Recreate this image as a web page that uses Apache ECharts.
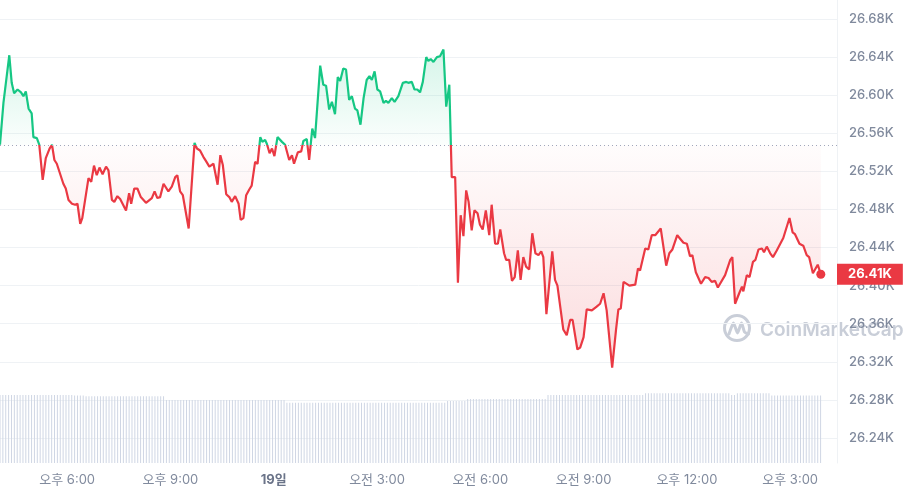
<!DOCTYPE html>
<html><head><meta charset="utf-8">
<script src="https://cdn.jsdelivr.net/npm/echarts@6/dist/echarts.min.js"></script>
<style>html,body{margin:0;padding:0;background:#fff}#c{width:907px;height:495px}</style>
</head><body><div id="c"></div>
<script>
// time in hours since 00:00 of the 18th
const times = [
16.05,16.15,16.32,16.39,16.46,16.56,16.66,16.73,16.80,16.88,
16.97,17.02,17.12,17.19,17.29,17.38,17.49,17.56,17.63,17.70,
17.89,17.96,18.04,18.14,18.23,18.30,18.38,18.44,18.62,18.70,
18.78,18.86,18.94,19.03,19.13,19.20,19.30,19.37,19.46,19.54,
19.71,19.80,19.86,19.95,20.04,20.14,20.29,20.46,20.54,20.62,
20.70,20.80,20.94,21.04,21.14,21.20,21.28,21.36,21.53,21.70,
21.77,21.86,21.96,22.03,22.13,22.25,22.37,22.45,22.52,22.62,
22.71,22.78,22.88,22.98,23.04,23.12,23.20,23.29,23.36,23.46,
23.53,23.61,23.67,23.75,23.80,23.88,23.95,24.02,24.11,24.24,
24.33,24.45,24.53,24.59,24.70,24.80,24.86,24.96,25.03,25.12,
25.20,25.35,25.44,25.52,25.61,25.69,25.78,25.86,25.93,26.02,
26.10,26.19,26.27,26.36,26.43,26.52,26.61,26.70,26.78,26.85,
26.93,27.01,27.09,27.19,27.26,27.33,27.43,27.51,27.62,27.75,
27.85,27.91,28.01,28.09,28.17,28.25,28.33,28.43,28.49,28.56,
28.64,28.74,28.83,28.93,29.01,29.10,29.17,29.27,29.35,29.43,
29.51,29.59,29.66,29.75,29.83,29.92,29.99,30.07,30.16,30.26,
30.33,30.43,30.51,30.58,30.69,30.75,30.84,30.92,31.00,31.09,
31.17,31.25,31.33,31.42,31.51,31.60,31.69,31.77,31.83,31.92,
32.09,32.17,32.24,32.41,32.51,32.61,32.68,32.82,32.90,33.00,
33.09,33.24,33.38,33.48,33.58,33.67,33.83,33.94,34.01,34.08,
34.16,34.33,34.50,34.58,34.64,34.79,34.88,34.98,35.08,35.24,
35.40,35.49,35.58,35.72,35.90,36.00,36.09,36.16,36.26,36.41,
36.53,36.63,36.72,36.82,36.90,37.11,37.26,37.32,37.40,37.52,
37.60,37.64,37.74,37.82,37.92,37.99,38.08,38.18,38.24,38.32,
38.42,38.50,38.61,38.80,38.98,39.07,39.14,39.27,39.38,39.48,
39.55,39.66,39.80,39.89
];
const prices = [
26548,26592,26642,26613,26602,26606,26603,26599,26604,26586,
26581,26556,26555,26548,26511,26534,26544,26548,26532,26528,
26507,26502,26490,26486,26485,26486,26465,26471,26513,26509,
26526,26516,26524,26517,26525,26521,26490,26488,26494,26491,
26479,26497,26486,26502,26502,26493,26487,26492,26499,26492,
26493,26507,26499,26504,26514,26516,26499,26495,26460,26550,
26544,26542,26535,26531,26525,26528,26506,26537,26527,26496,
26493,26488,26494,26486,26469,26471,26495,26501,26505,26530,
26528,26556,26551,26553,26549,26539,26544,26536,26556,26551,
26548,26532,26537,26528,26540,26541,26552,26554,26532,26565,
26555,26631,26611,26610,26585,26593,26580,26619,26615,26628,
26627,26595,26599,26586,26584,26569,26597,26616,26620,26616,
26625,26606,26604,26592,26594,26592,26597,26593,26599,26613,
26614,26613,26614,26606,26606,26603,26614,26640,26636,26638,
26635,26640,26641,26648,26588,26611,26514,26514,26403,26474,
26452,26500,26488,26458,26479,26476,26464,26459,26479,26453,
26485,26444,26444,26459,26434,26427,26427,26405,26409,26437,
26406,26430,26420,26417,26455,26434,26432,26436,26430,26370,
26436,26406,26400,26354,26348,26364,26364,26333,26335,26346,
26375,26374,26378,26381,26392,26374,26314,26353,26375,26376,
26404,26400,26401,26418,26416,26439,26438,26453,26453,26460,
26421,26434,26438,26453,26445,26444,26431,26432,26414,26402,
26409,26408,26404,26405,26398,26411,26427,26430,26381,26392,
26399,26394,26411,26409,26425,26427,26438,26439,26435,26441,
26434,26430,26437,26450,26471,26456,26454,26444,26442,26432,
26430,26413,26422,26412
];
const openPrice = 26547.5;
// 5-minute volume bars (rolling volume, billions)
const volStart = 16.05;
const volStepHours = 1 / 12;
const volume = [
10.0,10.0,10.0,10.0,10.0,10.0,10.0,10.0,10.0,10.0,10.0,10.0,10.0,
10.0,10.0,10.0,10.0,10.0,10.0,10.0,10.0,10.0,10.0,10.0,10.0,10.0,
9.9,9.9,9.9,9.9,9.8,9.8,9.8,9.8,9.8,9.8,9.8,9.8,9.8,9.8,9.8,9.8,
9.8,9.8,9.8,9.8,9.8,9.8,9.8,9.8,9.8,9.8,9.8,9.8,9.8,9.8,9.8,9.8,
9.26,9.26,9.26,9.26,9.26,9.26,9.26,9.26,9.26,9.26,9.26,9.26,9.26,9.26,
9.26,9.26,9.26,9.26,9.26,9.26,9.26,9.26,9.26,9.26,9.26,9.26,9.26,9.26,
9.26,9.26,9.26,9.26,9.26,9.26,9.26,9.26,9.26,9.26,9.26,9.26,9.26,9.26,
8.85,8.85,8.85,8.85,8.85,8.85,8.85,8.85,8.85,8.85,8.85,8.85,8.85,8.85,
8.85,8.85,8.85,8.85,8.85,8.85,8.85,8.85,8.85,8.85,8.85,8.85,8.85,8.85,
8.85,8.85,8.85,8.85,8.85,8.85,8.85,8.85,8.85,8.85,8.85,8.85,8.85,8.85,
8.85,8.85,8.85,8.85,8.85,8.85,8.85,8.85,8.85,8.85,8.85,8.85,8.85,8.85,
9.12,9.12,9.12,9.12,9.12,9.12,9.12,
9.41,9.41,9.41,9.41,9.41,9.41,9.41,9.41,9.41,9.41,9.41,9.41,9.41,9.41,
9.41,9.41,9.41,9.41,9.41,9.41,9.41,9.41,9.41,9.41,9.41,9.41,9.41,9.41,
10.0,10.0,10.0,10.0,10.0,10.0,10.0,10.0,10.0,10.0,10.0,10.0,10.0,10.0,10.0,10.0,10.0,
10.0,10.0,10.0,10.0,10.0,10.0,10.0,10.0,10.0,10.0,10.0,10.0,10.0,10.0,10.0,10.0,10.0,
10.25,10.25,10.25,10.25,10.25,10.25,10.25,10.25,10.25,10.25,10.25,10.25,10.25,10.25,10.25,
10.25,10.25,10.25,10.25,10.25,10.25,10.25,10.25,10.25,10.25,10.25,10.25,10.25,10.25,10.25,
10.0,10.0,
10.25,10.25,10.25,10.25,10.25,10.25,10.25,10.25,10.25,10.25,10.25,10.25,
9.9,9.9,9.9,9.9,9.9,9.9,9.9,9.9,9.9,9.9,9.9,9.9,9.9,9.9,9.9,9.9,9.9,9.9
];
const priceAxisMin = 26240, priceAxisMax = 26700, priceAxisStep = 40;
const tickHours = [18, 21, 24, 27, 30, 33, 36, 39];
const tickLabels = ['오후 6:00', '오후 9:00', '19일', '오전 3:00', '오전 6:00', '오전 9:00', '오후 12:00', '오후 3:00'];
const boldTickLabels = ['19일'];

const UP = '#16c784', DOWN = '#ea3943';
const FONT = 'Inter, "Noto Sans CJK KR", sans-serif';
const LABEL_COLOR = '#808a9d';
const xMin = 16.05, xMax = 40.36;
const fmtK = v => (v / 1000).toFixed(2) + 'K';

const lineData = times.map((t, i) => [t, prices[i]]);
const volData = volume.map((v, i) => [volStart + i * volStepHours, v]);
const last = prices.length - 1;
const pMax = Math.max(...prices), pMin = Math.min(...prices);
const split = (pMax - openPrice) / (pMax - pMin);

const chart = echarts.init(document.getElementById('c'), null, {renderer: 'canvas'});
chart.setOption({
  animation: false,
  backgroundColor: '#ffffff',
  textStyle: {fontFamily: FONT},
  grid: [
    {left: 0, right: 70, top: 0, bottom: 57},
    {left: 0, right: 70, top: 0, bottom: 32}
  ],
  xAxis: [
    {gridIndex: 0, type: 'value', min: xMin, max: xMax, show: false},
    {gridIndex: 1, type: 'value', min: xMin, max: xMax,
     axisLine: {show: false}, axisTick: {show: false}, splitLine: {show: false},
     axisLabel: {
       customValues: tickHours, margin: 11, color: LABEL_COLOR, fontSize: 13, fontFamily: FONT,
       formatter: v => {
         const i = tickHours.findIndex(h => Math.abs(h - v) < 1e-6);
         if (i < 0) return '';
         const s = tickLabels[i];
         return boldTickLabels.includes(s) ? '{b|' + s + '}' : s;
       },
       rich: {b: {fontWeight: 'bold', color: '#6b7489', fontSize: 13, fontFamily: FONT}}
     }}
  ],
  yAxis: [
    {gridIndex: 0, type: 'value', position: 'right', min: priceAxisMin, max: priceAxisMax, interval: priceAxisStep,
     axisLine: {show: false}, axisTick: {show: false},
     splitLine: {show: true, showMaxLine: false, lineStyle: {color: '#eff2f5', width: 1}},
     axisLabel: {showMaxLabel: false, margin: 12, color: LABEL_COLOR, fontSize: 13, fontWeight: 500, fontFamily: FONT, formatter: fmtK},
     axisPointer: {
       show: true, type: 'line', value: prices[last], status: 'show', snap: false, triggerTooltip: false,
       lineStyle: {opacity: 0},
       label: {show: true, formatter: p => fmtK(p.value), backgroundColor: DOWN, color: '#fff',
               fontWeight: 'bold', fontSize: 13, fontFamily: FONT, padding: [4, 11, 4, 11], margin: 0, borderRadius: 0}
     }},
    {gridIndex: 1, type: 'value', position: 'right', min: 0, max: 68,
     axisLine: {show: true, lineStyle: {color: '#eff2f5'}}, axisTick: {show: false},
     axisLabel: {show: false}, splitLine: {show: false}}
  ],
  visualMap: {
    show: false, type: 'piecewise', seriesIndex: 1, dimension: 1,
    pieces: [
      {gte: priceAxisMin - 1000, lt: openPrice, color: DOWN},
      {gte: openPrice, lte: priceAxisMax + 1000, color: UP}
    ]
  },
  graphic: [
    {type: 'circle', z: -10, shape: {cx: 737, cy: 328, r: 12.5}, style: {fill: null, stroke: '#c9ced8', lineWidth: 3}},
    {type: 'polyline', z: -10, shape: {points: [[729, 334], [733.5, 323], [737.5, 333], [741.5, 323], [744.5, 332], [748.5, 334]], smooth: 0.2},
     style: {fill: null, stroke: '#c9ced8', lineWidth: 3, lineJoin: 'round', lineCap: 'round'}},
    {type: 'text', z: -10, x: 760, y: 330, style: {text: 'CoinMarketCap', fill: '#c9ced8', font: '600 19px ' + FONT, verticalAlign: 'middle'}}
  ],
  series: [
    {type: 'bar', xAxisIndex: 1, yAxisIndex: 1, data: volData, barWidth: 1, silent: true,
     itemStyle: {color: '#cfd6e4'}},
    {type: 'line', xAxisIndex: 0, yAxisIndex: 0, data: lineData, showSymbol: false, symbol: 'none', silent: true,
     lineStyle: {width: 2.2},
     areaStyle: {
       origin: openPrice,
       color: new echarts.graphic.LinearGradient(0, 0, 0, 1, [
         {offset: 0, color: 'rgba(22,199,132,0.26)'},
         {offset: split, color: 'rgba(22,199,132,0.02)'},
         {offset: split, color: 'rgba(234,57,67,0.02)'},
         {offset: 1, color: 'rgba(234,57,67,0.26)'}
       ])
     },
     markLine: {silent: true, symbol: 'none', label: {show: false},
       lineStyle: {color: '#a1a7bb', type: [1, 3], width: 1},
       data: [{yAxis: openPrice}]}
    },
    {type: 'scatter', xAxisIndex: 0, yAxisIndex: 0, data: [[times[last], prices[last]]], symbolSize: 9, silent: true,
     itemStyle: {color: DOWN, opacity: 1}, z: 5}
  ]
});
</script>
</body></html>
